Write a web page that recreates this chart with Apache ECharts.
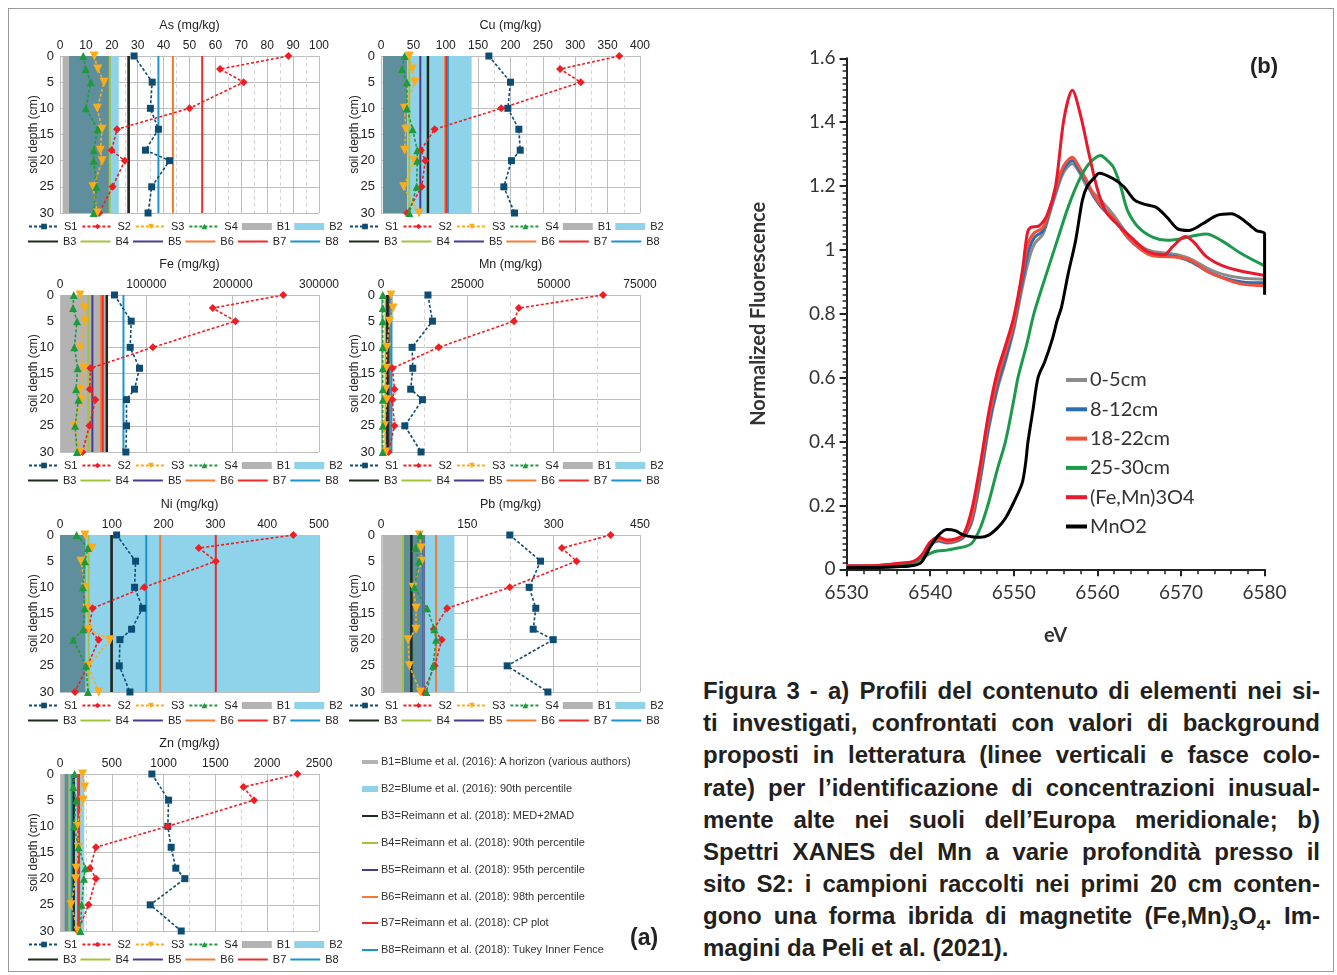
<!DOCTYPE html>
<html>
<head>
<meta charset="utf-8">
<title>Figura 3</title>
<script src="https://cdn.jsdelivr.net/npm/echarts@6/dist/echarts.min.js"></script>
<style>
  body{margin:0;background:#fff;width:1337px;height:975px;overflow:hidden;position:relative;font-family:"Liberation Sans",Arial,sans-serif;color:#222}
  .frame{position:absolute;left:8px;top:8px;width:1326px;height:964px;border:1px solid #9a9a9a;box-sizing:border-box}
  .prof{position:absolute;width:360px;height:240px}
  #xanes{position:absolute;left:700px;top:0;width:637px;height:670px}
  .bk{position:absolute;left:362px;font-size:11px;color:#333;height:14px;line-height:14px;white-space:nowrap}
  .bk i{display:inline-block;width:16px;vertical-align:middle;margin-right:3px}
  .tag{position:absolute;left:630px;top:924px;font:bold 23px "Liberation Sans",Arial,sans-serif;color:#222}
  .cap{position:absolute;left:703px;width:617px;font:bold 24px "Liberation Sans Narrow","Liberation Sans",Arial,sans-serif;font-stretch:condensed;color:#231f20;line-height:32px;height:32px;text-align:justify;text-align-last:justify;white-space:nowrap}
  .cap.last{text-align-last:left}
  .cap sub{font-size:15px;line-height:0}
</style>
</head>
<body>
<div class="frame"></div>

<div id="pAs" class="prof" style="left:10px;top:10px"></div>
<div id="pCu" class="prof" style="left:331px;top:10px"></div>
<div id="pFe" class="prof" style="left:10px;top:249px"></div>
<div id="pMn" class="prof" style="left:331px;top:249px"></div>
<div id="pNi" class="prof" style="left:10px;top:489px"></div>
<div id="pPb" class="prof" style="left:331px;top:489px"></div>
<div id="pZn" class="prof" style="left:10px;top:728px"></div>

<div class="bk" style="top:754px"><i style="height:4px;background:#b3b3b3"></i>B1=Blume et al. (2016): A horizon (various authors)</div>
<div class="bk" style="top:781px"><i style="height:6px;background:#8fd3ea"></i>B2=Blume et al. (2016): 90th percentile</div>
<div class="bk" style="top:808px"><i style="height:2px;background:#1b2a1b"></i>B3=Reimann et al. (2018): MED+2MAD</div>
<div class="bk" style="top:835px"><i style="height:2px;background:#a5c23c"></i>B4=Reimann et al. (2018): 90th percentile</div>
<div class="bk" style="top:862px"><i style="height:2px;background:#4b3b8f"></i>B5=Reimann et al. (2018): 95th percentile</div>
<div class="bk" style="top:889px"><i style="height:2px;background:#f47a30"></i>B6=Reimann et al. (2018): 98th percentile</div>
<div class="bk" style="top:915px"><i style="height:2px;background:#ee2a2a"></i>B7=Reimann et al. (2018): CP plot</div>
<div class="bk" style="top:942px"><i style="height:2px;background:#1a95cc"></i>B8=Reimann et al. (2018): Tukey Inner Fence</div>
<div class="tag">(a)</div>

<div id="xanes"></div>

<div class="cap" style="top:675px">Figura 3 - a) Profili del contenuto di elementi nei si-</div>
<div class="cap" style="top:707px">ti investigati, confrontati con valori di background</div>
<div class="cap" style="top:739px">proposti in letteratura (linee verticali e fasce colo-</div>
<div class="cap" style="top:772px">rate) per l’identificazione di concentrazioni inusual-</div>
<div class="cap" style="top:804px">mente alte nei suoli dell’Europa meridionale; b)</div>
<div class="cap" style="top:836px">Spettri XANES del Mn a varie profondità presso il</div>
<div class="cap" style="top:868px">sito S2: i campioni raccolti nei primi 20 cm conten-</div>
<div class="cap" style="top:900px">gono una forma ibrida di magnetite (Fe,Mn)<sub>3</sub>O<sub>4</sub>. Im-</div>
<div class="cap last" style="top:932px">magini da Peli et al. (2021).</div>

<script>
// profondita' dei campioni (cm)
var depthS1 = [0, 5, 10, 14, 18, 20, 25, 30];
var depthS = [0, 2.5, 5, 10, 14, 18, 20, 25, 30];

// As
var asS1 = [28.6, 35.6, 34.9, 38, 33, 42.3, 35.4, 34];
var asS2 = [88.2, 61.8, 70.9, 50, 22, 19.9, 25, 20.3, 15.1];
var asS3 = [13.2, 14.6, 17, 14.4, 16.2, 15.6, 16.3, 12.8, 14.4];
var asS4 = [9, 9.9, 11.9, 10, 14.6, 13, 13, 14.1, 13];
var asB1 = [1, 19], asB2 = [3.5, 22.7];
var asRef = [26.5, 19.2, 26.5, 43.6, 54.9, 38];   // B3..B8

// Cu
var cuS1 = [166.6, 200, 195.9, 212.9, 215, 201.5, 189.7, 206.2];
var cuS2 = [368, 276.6, 308.5, 185.6, 82.8, 61.7, 68.4, 62.7, 40.1];
var cuS3 = [43.7, 48.3, 52.4, 36.5, 38, 36.5, 51.4, 35, 58.6];
var cuS4 = [36.5, 32.4, 40.1, 40.1, 48.8, 56, 56, 55, 43.7];
var cuB1 = [3, 40], cuB2 = [3, 140];
var cuRef = [72.5, 43.7, 60.7, 99.2, 101, 103.3];

// Fe
var feS1 = [63100, 82500, 81300, 92100, 86300, 77000, 77000, 76300];
var feS2 = [258600, 176900, 203300, 107600, 35200, 34500, 41000, 34100, 25900];
var feS3 = [23200, 28300, 28600, 23600, 27500, 24000, 24800, 16600, 23200];
var feS4 = [15900, 15100, 19700, 16600, 20500, 18600, 21300, 17500, 19700];
var feB1 = [1000, 53000], feB2 = null;
var feRef = [54200, 32900, 37500, 47600, 49500, 73500];

// Mn
var mnS1 = [13600, 14900, 9000, 9200, 8600, 12000, 6900, 11600];
var mnS2 = [64300, 39900, 38500, 16700, 3300, 3900, 3300, 3900, 2200];
var mnS3 = [2900, 3500, 2500, 1700, 1500, 1400, 1700, 1000, 1400];
var mnS4 = [500, 500, 500, 500, 500, 500, 500, 500, 500];
var mnB1 = [0, 600], mnB2 = [2600, 3300];
var mnRef = [1900, 1300, 1700, 2100, 2400, 3000];

// Ni
var niS1 = [109.3, 145.9, 144, 159.4, 138.2, 115.7, 114.4, 135];
var niS2 = [450.5, 268, 300.8, 162.6, 63, 55.3, 74.6, 53.3, 28.9];
var niS3 = [48.2, 61.7, 40.5, 48.8, 51.4, 55.3, 97, 54.6, 74.6];
var niS4 = [32.1, 54, 48.2, 44.3, 47.6, 45, 25.7, 50.1, 54];
var niB1 = [0, 49], niB2 = [0, 500];
var niRef = [99.6, 55.3, 99.6, 193.4, 300.8, 166.5];

// Pb
var pbS1 = [223.8, 277.2, 257.5, 269, 264.4, 299.2, 219.2, 290];
var pbS2 = [399, 314.3, 339.8, 223.8, 114.8, 91.6, 105.5, 93.4, 73];
var pbS3 = [66.7, 69.6, 70.7, 55.7, 60.9, 60.9, 47, 49.3, 68.4];
var pbS4 = [68.4, 59.7, 66.1, 58, 80, 92.8, 95.7, 90.5, 78.9];
var pbB1 = [2.3, 74], pbB2 = [36.5, 127.6];
var pbRef = [52.8, 38.3, 73.6, 95.7, 74.8, 74];

// Zn
var znS1 = [887, 1048, 1041, 1073, 1118, 1205, 871, 1170];
var znS2 = [2291, 1771, 1873, 1038, 347, 289, 347, 276, 174];
var znS3 = [218, 238, 222, 164, 177, 157, 151, 106, 174];
var znS4 = [141, 129, 157, 135, 180, 244, 231, 209, 196];
var znB1 = [10, 95], znB2 = [45, 235];
var znRef = [132, 90, 177, 185, 183, 112];

// XANES Mn, sito S2  [eV, fluorescenza normalizzata]
var x05 = [[6530,0.01],[6534,0.012],[6536,0.016],[6538,0.022],[6539,0.038],[6540,0.075],[6541,0.088],[6542,0.082],[6543,0.086],[6544,0.1],[6545,0.15],[6546,0.28],[6547,0.44],[6548,0.56],[6549,0.65],[6550,0.75],[6551,0.88],[6551.8,0.97],[6552.5,1.02],[6553.5,1.05],[6554.6,1.14],[6555.9,1.24],[6557,1.27],[6557.8,1.245],[6558.7,1.2],[6559.5,1.18],[6560.6,1.15],[6561.9,1.11],[6563.6,1.05],[6565.3,1.01],[6566.6,0.995],[6568.3,0.99],[6569.6,0.985],[6571.3,0.97],[6573,0.945],[6574.8,0.925],[6577.3,0.912],[6580,0.908]];
var x812 = [[6530,0.01],[6534,0.012],[6536,0.016],[6538,0.022],[6539,0.04],[6540,0.078],[6541,0.09],[6542,0.084],[6543,0.088],[6544,0.102],[6545,0.155],[6546,0.29],[6547,0.45],[6548,0.57],[6549,0.66],[6550,0.76],[6551,0.9],[6551.8,1.0],[6552.5,1.04],[6553.5,1.06],[6554.6,1.15],[6555.9,1.25],[6557,1.28],[6557.8,1.25],[6558.7,1.21],[6559.5,1.17],[6560.6,1.13],[6561.9,1.1],[6563.6,1.04],[6565.3,1.0],[6566.6,0.985],[6568.3,0.982],[6569.6,0.978],[6571.3,0.962],[6573,0.935],[6574.8,0.915],[6577.3,0.9],[6580,0.897]];
var x1822 = [[6530,0.01],[6534,0.013],[6536,0.017],[6538,0.024],[6539,0.042],[6540,0.082],[6541,0.093],[6542,0.087],[6543,0.09],[6544,0.106],[6545,0.165],[6546,0.31],[6547,0.47],[6548,0.59],[6549,0.68],[6550,0.77],[6551,0.92],[6551.7,1.02],[6552.5,1.055],[6553.5,1.07],[6554.6,1.155],[6555.9,1.26],[6557,1.29],[6557.8,1.26],[6558.7,1.218],[6559.5,1.176],[6560.6,1.134],[6561.9,1.1],[6563.6,1.04],[6565.3,1.0],[6566.6,0.982],[6568.3,0.979],[6569.6,0.977],[6571.3,0.966],[6573,0.935],[6574.8,0.914],[6577.3,0.893],[6580,0.888]];
var x2530 = [[6530,0.005],[6534,0.008],[6536,0.012],[6538,0.02],[6539,0.035],[6540,0.05],[6541,0.058],[6542,0.06],[6543,0.065],[6544,0.07],[6545,0.082],[6546,0.13],[6547,0.21],[6548,0.31],[6549,0.4],[6550,0.53],[6550.5,0.6],[6551.6,0.71],[6552.4,0.8],[6553.9,0.925],[6555.2,1.03],[6556.5,1.134],[6557.8,1.218],[6559,1.27],[6560.4,1.296],[6561,1.285],[6561.9,1.26],[6562.8,1.197],[6563.6,1.124],[6564.9,1.071],[6566.6,1.04],[6568.3,1.03],[6570,1.035],[6571.7,1.045],[6573,1.05],[6574.8,1.03],[6577.3,0.987],[6580,0.95]];
var xMagn = [[6530,0.01],[6534,0.012],[6536,0.018],[6538,0.025],[6539,0.045],[6540,0.085],[6541,0.1],[6542,0.092],[6543,0.095],[6544,0.11],[6545,0.19],[6546,0.33],[6547,0.49],[6548,0.615],[6549,0.7],[6550,0.79],[6551,0.93],[6551.6,1.05],[6552,1.07],[6553,1.075],[6554,1.11],[6555,1.2],[6556,1.41],[6557,1.5],[6558,1.42],[6559,1.3],[6560,1.19],[6561,1.12],[6562,1.09],[6564,1.04],[6566,0.995],[6568,0.985],[6569,1.01],[6570.5,1.042],[6571.5,1.025],[6573,0.98],[6575,0.95],[6577,0.935],[6580,0.92]];
var xMnO2 = [[6530,0.005],[6534,0.006],[6536,0.008],[6538,0.012],[6539,0.024],[6540,0.07],[6541,0.107],[6542,0.125],[6543,0.121],[6544,0.107],[6545,0.102],[6546,0.1],[6547,0.107],[6548,0.128],[6549,0.16],[6550,0.21],[6551,0.27],[6551.4,0.33],[6551.7,0.4],[6552.3,0.5],[6552.9,0.6],[6553.7,0.65],[6554.6,0.72],[6555.2,0.78],[6555.7,0.82],[6556.5,0.925],[6557.4,1.03],[6558.2,1.155],[6558.8,1.2],[6559.7,1.228],[6560.2,1.24],[6561.9,1.223],[6563.2,1.197],[6564.5,1.155],[6565.8,1.142],[6567,1.134],[6568.3,1.103],[6569.6,1.066],[6570.9,1.061],[6572.6,1.082],[6574.3,1.108],[6576,1.113],[6577.3,1.097],[6579,1.061],[6580,1.05],[6580,0.86]];
var xanesNames = ['0-5cm', '8-12cm', '18-22cm', '25-30cm', '(Fe,Mn)3O4', 'MnO2'];

var C = {
    S1: '#0d4d73', S2: '#f01e23', S3: '#fbad18', S4: '#1e9a3c',
    B1: '#b3b3b3', B2: '#8fd3ea', B12: '#5f8f9d',
    B3: '#1b2a1b', B4: '#a5c23c', B5: '#4b3b8f', B6: '#f47a30', B7: '#ee2a2a', B8: '#1a95cc'
};
var sNames = ['S1', 'S2', 'S3', 'S4'];
var refNames = ['B3', 'B4', 'B5', 'B6', 'B7', 'B8'];
var sSymbol = {S1: ['rect', 7, 0], S2: ['diamond', 8, 0], S3: ['triangle', 9, 180], S4: ['triangle', 8, 0]};

var profiles = [
    {id: 'pAs', title: 'As (mg/kg)', max: 100, interval: 10, s: [asS1, asS2, asS3, asS4], b1: asB1, b2: asB2, ref: asRef},
    {id: 'pCu', title: 'Cu (mg/kg)', max: 400, interval: 50, s: [cuS1, cuS2, cuS3, cuS4], b1: cuB1, b2: cuB2, ref: cuRef},
    {id: 'pFe', title: 'Fe (mg/kg)', max: 300000, interval: 100000, s: [feS1, feS2, feS3, feS4], b1: feB1, b2: feB2, ref: feRef},
    {id: 'pMn', title: 'Mn (mg/kg)', max: 75000, interval: 25000, s: [mnS1, mnS2, mnS3, mnS4], b1: mnB1, b2: mnB2, ref: mnRef},
    {id: 'pNi', title: 'Ni (mg/kg)', max: 500, interval: 100, s: [niS1, niS2, niS3, niS4], b1: niB1, b2: niB2, ref: niRef},
    {id: 'pPb', title: 'Pb (mg/kg)', max: 450, interval: 150, s: [pbS1, pbS2, pbS3, pbS4], b1: pbB1, b2: pbB2, ref: pbRef},
    {id: 'pZn', title: 'Zn (mg/kg)', max: 2500, interval: 500, s: [znS1, znS2, znS3, znS4], b1: znB1, b2: znB2, ref: znRef}
];

function band(name, range, color) {
    return {
        name: name, type: 'line', data: [], symbol: 'none', color: color,
        lineStyle: {color: color, width: 6}, z: 1,
        markArea: {silent: true, itemStyle: {color: color, opacity: 1},
            data: range ? [[{xAxis: range[0]}, {xAxis: range[1]}]] : []}
    };
}

function profileOption(p) {
    var series = [];
    series.push(band('B2', p.b2, C.B2));
    series.push(band('B1', p.b1, C.B1));
    // fascia sovrapposta B1/B2
    if (p.b1 && p.b2) {
        var lo = Math.max(p.b1[0], p.b2[0]), hi = Math.min(p.b1[1], p.b2[1]);
        if (hi > lo) series.push(band('B1B2', [lo, hi], C.B12));
    }
    refNames.forEach(function (n, i) {
        series.push({
            name: n, type: 'line', symbol: 'none', color: C[n], z: n === 'B3' ? 4 : 3,
            lineStyle: {color: C[n], width: n === 'B3' ? 2.5 : 2},
            data: [[p.ref[i], 0], [p.ref[i], 30]]
        });
    });
    sNames.forEach(function (n, i) {
        var dep = i === 0 ? depthS1 : depthS;
        series.push({
            name: n, type: 'line', color: C[n], z: 5,
            symbol: sSymbol[n][0], symbolSize: sSymbol[n][1], symbolRotate: sSymbol[n][2],
            lineStyle: {color: C[n], width: 1.6, type: [3, 2]},
            itemStyle: {color: C[n]},
            data: p.s[i].map(function (v, k) { return [v, dep[k]]; })
        });
    });
    var legendText = {fontSize: 11, color: '#222', fontFamily: 'Liberation Sans'};
    return {
        animation: false,
        grid: {left: 50, top: 46, width: 259, height: 157},
        xAxis: {
            type: 'value', position: 'top', min: 0, max: p.max, interval: p.interval,
            name: p.title, nameLocation: 'middle', nameGap: 24, nameMoveOverlap: false,
            nameTextStyle: {fontSize: 12.5, color: '#222', fontFamily: 'Liberation Sans'},
            axisLine: {show: false}, axisTick: {show: false},
            axisLabel: {fontSize: 12, color: '#222', margin: 4, fontFamily: 'Liberation Sans',
                formatter: function (v) { return String(v); }},
            splitLine: {show: true, lineStyle: {color: '#bdbdbd'}},
            minorTick: {show: false, splitNumber: 2},
            minorSplitLine: {show: true, lineStyle: {color: '#d6d6d6', type: [4, 3]}}
        },
        yAxis: {
            type: 'value', inverse: true, min: 0, max: 30, interval: 5,
            name: 'soil depth (cm)', nameLocation: 'middle', nameGap: 20, nameMoveOverlap: false,
            nameTextStyle: {fontSize: 12, color: '#222', fontFamily: 'Liberation Sans'},
            axisLine: {show: false}, axisTick: {show: false},
            axisLabel: {fontSize: 13, color: '#222', margin: 6, fontFamily: 'Liberation Sans'},
            splitLine: {show: true, lineStyle: {color: '#bdbdbd'}}
        },
        legend: [
            {top: 211, left: 18, padding: 0, itemWidth: 30, itemHeight: 7, itemGap: 4,
                selectedMode: false, textStyle: legendText,
                data: ['S1', 'S2', 'S3', 'S4', {name: 'B1', icon: 'rect'}, {name: 'B2', icon: 'rect'}]},
            {top: 226, left: 18, padding: 0, itemWidth: 30, itemHeight: 2, itemGap: 4, icon: 'rect',
                selectedMode: false, textStyle: legendText, data: refNames}
        ],
        series: series
    };
}

profiles.forEach(function (p) {
    var chart = echarts.init(document.getElementById(p.id));
    chart.setOption(profileOption(p));
});

// (b) spettri XANES
var xColors = ['#8c8c8c', '#2c6db0', '#f1503a', '#1c9a4c', '#e8192c', '#000000'];
var xData = [x05, x812, x1822, x2530, xMagn, xMnO2];
var xanes = echarts.init(document.getElementById('xanes'));
xanes.setOption({
    animation: false,
    textStyle: {fontFamily: 'Lato'},
    grid: {left: 146.6, top: 58.3, width: 418, height: 511},
    xAxis: {
        type: 'value', min: 6530, max: 6580, interval: 10,
        name: 'eV', nameLocation: 'middle', nameGap: 56,
        nameTextStyle: {fontSize: 20, fontWeight: 'bold', color: '#333'},
        axisLine: {lineStyle: {color: '#222', width: 2}},
        axisTick: {length: 7, lineStyle: {color: '#222', width: 2}},
        minorTick: {show: true, splitNumber: 5, length: 5, lineStyle: {color: '#222', width: 1.5}},
        axisLabel: {fontSize: 19, color: '#333', margin: 14, formatter: function (v) { return String(v); }},
        splitLine: {show: false}
    },
    yAxis: {
        type: 'value', min: 0, max: 1.6, interval: 0.2,
        name: 'Normalized Fluorescence', nameLocation: 'middle', nameGap: 78, nameMoveOverlap: false,
        nameTextStyle: {fontSize: 20, fontWeight: 'bold', color: '#333'},
        axisLine: {show: true, lineStyle: {color: '#222', width: 2}},
        axisTick: {length: 7, lineStyle: {color: '#222', width: 2}},
        minorTick: {show: true, splitNumber: 10, length: 4, lineStyle: {color: '#222', width: 1.5}},
        axisLabel: {fontSize: 19, color: '#333', margin: 11,
            formatter: function (v) { return (v === 0 || v === 1) ? String(v) : v.toFixed(1); }},
        splitLine: {show: false}
    },
    legend: {
        orient: 'vertical', left: 366, top: 370, padding: 0,
        icon: 'rect', itemWidth: 21, itemHeight: 4, itemGap: 9.3, selectedMode: false,
        textStyle: {fontSize: 20, color: '#333', lineHeight: 20, padding: [0, 0, 0, -2]},
        data: xanesNames
    },
    graphic: [{
        type: 'text', x: 564, y: 67,
        style: {text: '(b)', fontSize: 22, fontWeight: 'bold', fill: '#222', fontFamily: 'Liberation Sans',
            align: 'center', verticalAlign: 'middle'}
    }],
    series: xanesNames.map(function (n, i) {
        return {
            name: n, type: 'line', showSymbol: false, symbol: 'none', smooth: 0.3,
            color: xColors[i], lineStyle: {color: xColors[i], width: 3},
            data: xData[i], z: 2 + i
        };
    })
});
</script>
</body>
</html>
